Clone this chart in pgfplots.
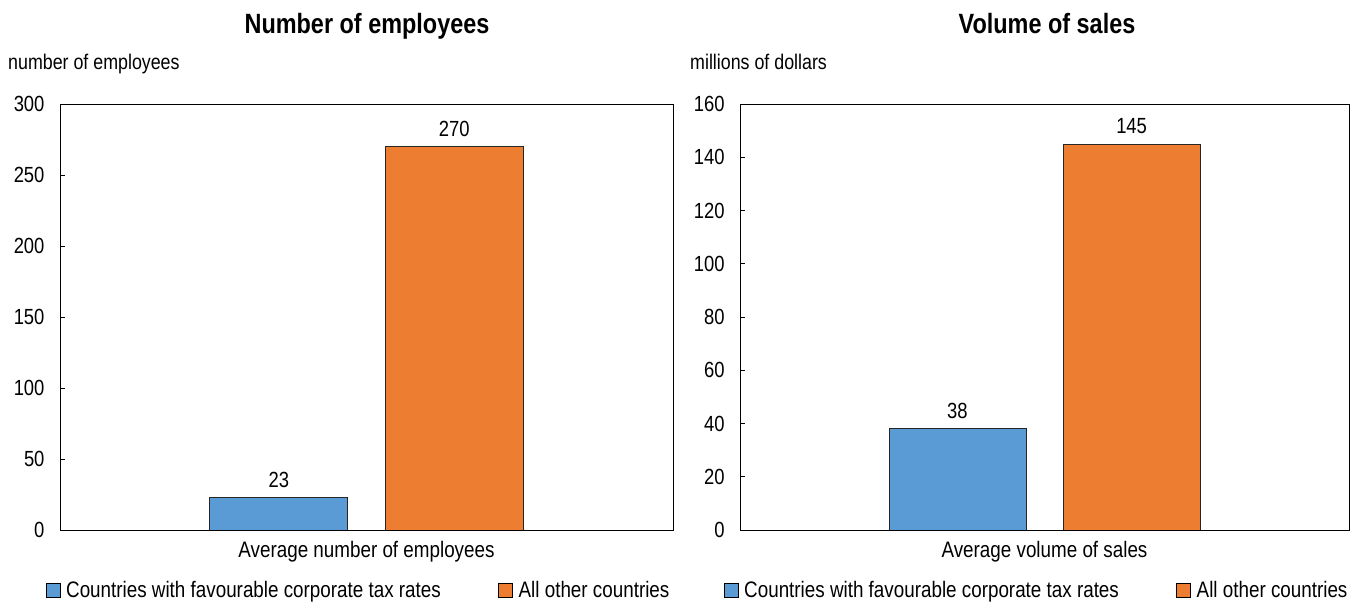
\documentclass[border=0pt]{standalone}
\usepackage{fontspec}
\setmainfont[FakeStretch=0.84]{Liberation Sans}
\usepackage{pgfplots}
\pgfplotsset{compat=1.18}
\definecolor{cblue}{HTML}{5B9BD5}
\definecolor{corange}{HTML}{ED7D31}
\newcommand{\fs}{\fontsize{22}{26}\selectfont}
\newcommand{\fl}{\fontsize{22.5}{26}\selectfont}
\pgfplotsset{
  panel/.style={
    scale only axis,
    width=#1, height=426bp,
    anchor=south west,
    xmin=-0.5, xmax=0.5,
    ymin=0,
    axis line style={black, line width=0.9bp},
    tick style={black, line width=0.9bp},
    major tick length=5bp,
    tick align=inside,
    ytick pos=left,
    xtick={0},
    x tick style={draw=none},
    xticklabel style={yshift=-3bp, font=\fl},
    yticklabel style={xshift=-12bp, font=\fs},
    /pgf/number format/assume math mode=true,
    ybar, bar width=0.225,
    nodes near coords,
    every node near coord/.append style={yshift=6bp, font=\fs},
    legend style={at={(0.49,-0.115)}, anchor=north, draw=none, fill=none,
      legend columns=2, font=\fl,
      /tikz/every even column/.append style={column sep=52bp},
      legend cell align=left, inner sep=0pt,
      nodes={inner xsep=5.5bp}},
    legend image code/.code={\draw[##1,draw=black,line width=0.8bp] (0bp,-7bp) rectangle (14bp,7bp);},
  },
  bblue/.style={fill=cblue, draw=black!85, line width=0.8bp, bar shift=-0.143},
  borange/.style={fill=corange, draw=black!85, line width=0.8bp, bar shift=0.143},
}
\begin{document}
\begin{tikzpicture}[x=1bp,y=1bp]
\useasboundingbox (0,0) rectangle (1361,604);
\begin{axis}[panel=613bp, at={(60bp,74bp)},
  ymax=300, ytick={0,50,...,300},
  xticklabels={Average number of employees}]
\addplot[bblue] coordinates {(0,23)};
\addplot[borange] coordinates {(0,270)};
\legend{Countries with favourable corporate tax rates, All other countries}
\end{axis}
\begin{axis}[panel=609bp, at={(740bp,74bp)},
  ymax=160, ytick={0,20,...,160},
  xticklabels={Average volume of sales}]
\addplot[bblue] coordinates {(0,38)};
\addplot[borange] coordinates {(0,145)};
\legend{Countries with favourable corporate tax rates, All other countries}
\end{axis}
\node[anchor=base, inner sep=0pt, font=\fontsize{28}{32}\selectfont\bfseries] at (367,570) {Number of employees};
\node[anchor=base, inner sep=0pt, font=\fontsize{28}{32}\selectfont\bfseries] at (1047,570) {Volume of sales};
\node[anchor=base west, inner sep=0pt, font=\fontsize{21.3}{25}\selectfont] at (8,534) {number of employees};
\node[anchor=base west, inner sep=0pt, font=\fontsize{21.3}{25}\selectfont] at (690,534) {millions of dollars};
\end{tikzpicture}
\end{document}
